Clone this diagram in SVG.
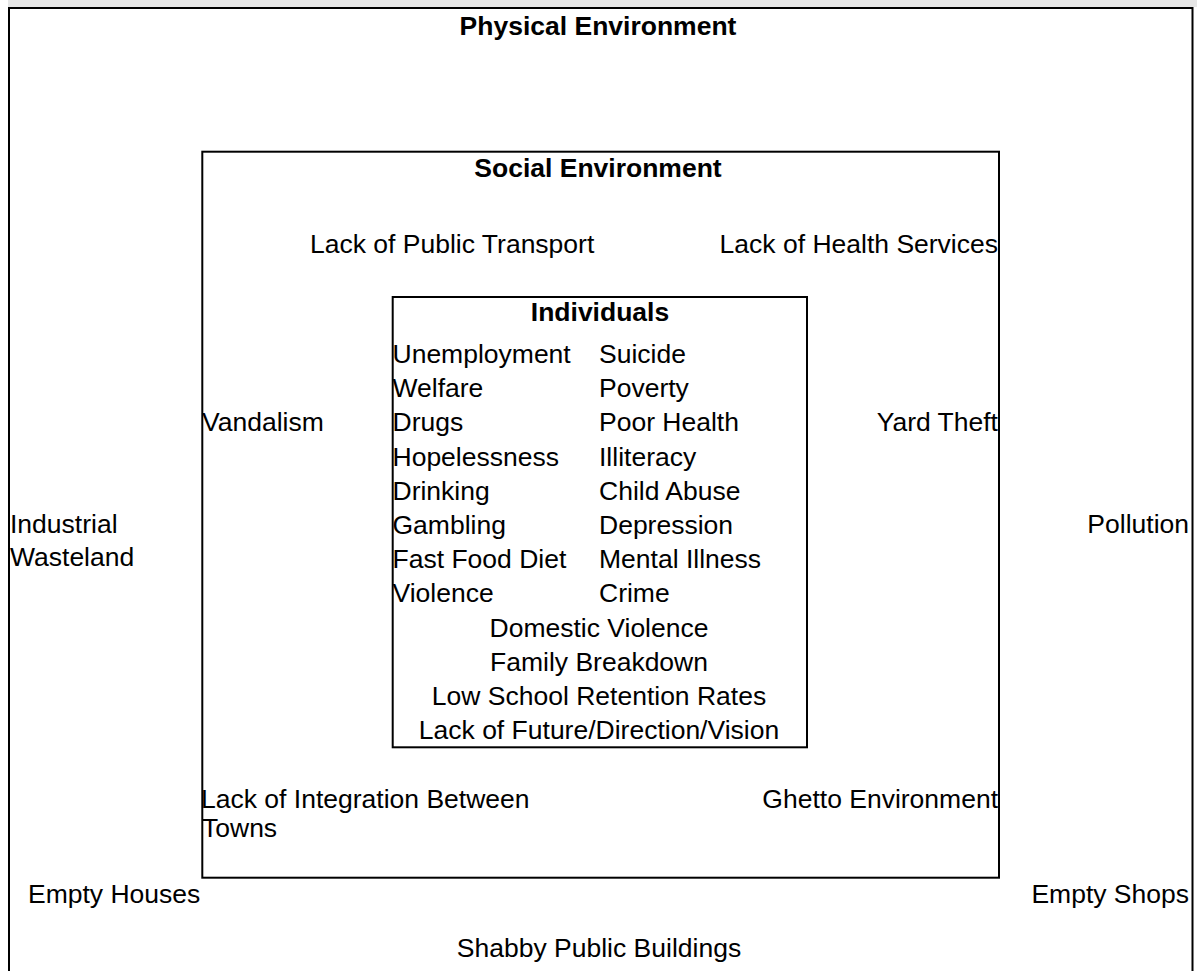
<svg xmlns="http://www.w3.org/2000/svg" width="1197" height="971" viewBox="0 0 1197 971">
  <style>
    .frame { fill: none; stroke: #000; stroke-width: 2; }
    .lbl { font-family: "Liberation Sans", Arial, sans-serif; font-size: 26.5px; fill: #000; }
    .title { font-weight: bold; text-anchor: middle; }
    .mid { text-anchor: middle; }
    .end { text-anchor: end; }
  </style>
  <rect x="0" y="0" width="1197" height="971" fill="#fff"/>
  <rect x="8" y="0" width="1189" height="7" fill="#e6e6e6"/>

  <!-- outermost layer: physical surroundings -->
  <g id="physical-environment">
    <path class="frame" d="M9 980 V8 H1192.5 V980"/>
    <text class="lbl title" x="598" y="35">Physical Environment</text>
    <text class="lbl" x="10" y="533">Industrial</text>
    <text class="lbl" x="10" y="566">Wasteland</text>
    <text class="lbl end" x="1189" y="533">Pollution</text>
    <text class="lbl" x="28" y="903">Empty Houses</text>
    <text class="lbl end" x="1189" y="903">Empty Shops</text>
    <text class="lbl mid" x="599" y="957">Shabby Public Buildings</text>
  </g>

  <!-- middle layer: community -->
  <g id="social-environment">
    <rect class="frame" x="202.3" y="151.7" width="796.7" height="726"/>
    <text class="lbl title" x="598" y="177">Social Environment</text>
    <text class="lbl" x="310" y="253">Lack of Public Transport</text>
    <text class="lbl end" x="998" y="253">Lack of Health Services</text>
    <text class="lbl" x="202" y="431">Vandalism</text>
    <text class="lbl end" x="998" y="431">Yard Theft</text>
    <text class="lbl" x="201" y="808">Lack of Integration Between</text>
    <text class="lbl" x="202" y="837">Towns</text>
    <text class="lbl end" x="998" y="808">Ghetto Environment</text>
  </g>

  <!-- inner layer: the person -->
  <g id="individuals">
    <rect class="frame" x="392.7" y="297" width="414.3" height="450.3"/>
    <text class="lbl title" x="600" y="321">Individuals</text>
    <g class="col-left">
      <text class="lbl" x="392.5" y="363">Unemployment</text>
      <text class="lbl" x="392.5" y="397.2">Welfare</text>
      <text class="lbl" x="392.5" y="431.4">Drugs</text>
      <text class="lbl" x="392.5" y="465.6">Hopelessness</text>
      <text class="lbl" x="392.5" y="499.8">Drinking</text>
      <text class="lbl" x="392.5" y="534">Gambling</text>
      <text class="lbl" x="392.5" y="568.2">Fast Food Diet</text>
      <text class="lbl" x="392.5" y="602.4">Violence</text>
    </g>
    <g class="col-right">
      <text class="lbl" x="599" y="363">Suicide</text>
      <text class="lbl" x="599" y="397.2">Poverty</text>
      <text class="lbl" x="599" y="431.4">Poor Health</text>
      <text class="lbl" x="599" y="465.6">Illiteracy</text>
      <text class="lbl" x="599" y="499.8">Child Abuse</text>
      <text class="lbl" x="599" y="534">Depression</text>
      <text class="lbl" x="599" y="568.2">Mental Illness</text>
      <text class="lbl" x="599" y="602.4">Crime</text>
    </g>
    <text class="lbl mid" x="599" y="636.6">Domestic Violence</text>
    <text class="lbl mid" x="599" y="670.8">Family Breakdown</text>
    <text class="lbl mid" x="599" y="705">Low School Retention Rates</text>
    <text class="lbl mid" x="599" y="739.2">Lack of Future/Direction/Vision</text>
  </g>
</svg>
